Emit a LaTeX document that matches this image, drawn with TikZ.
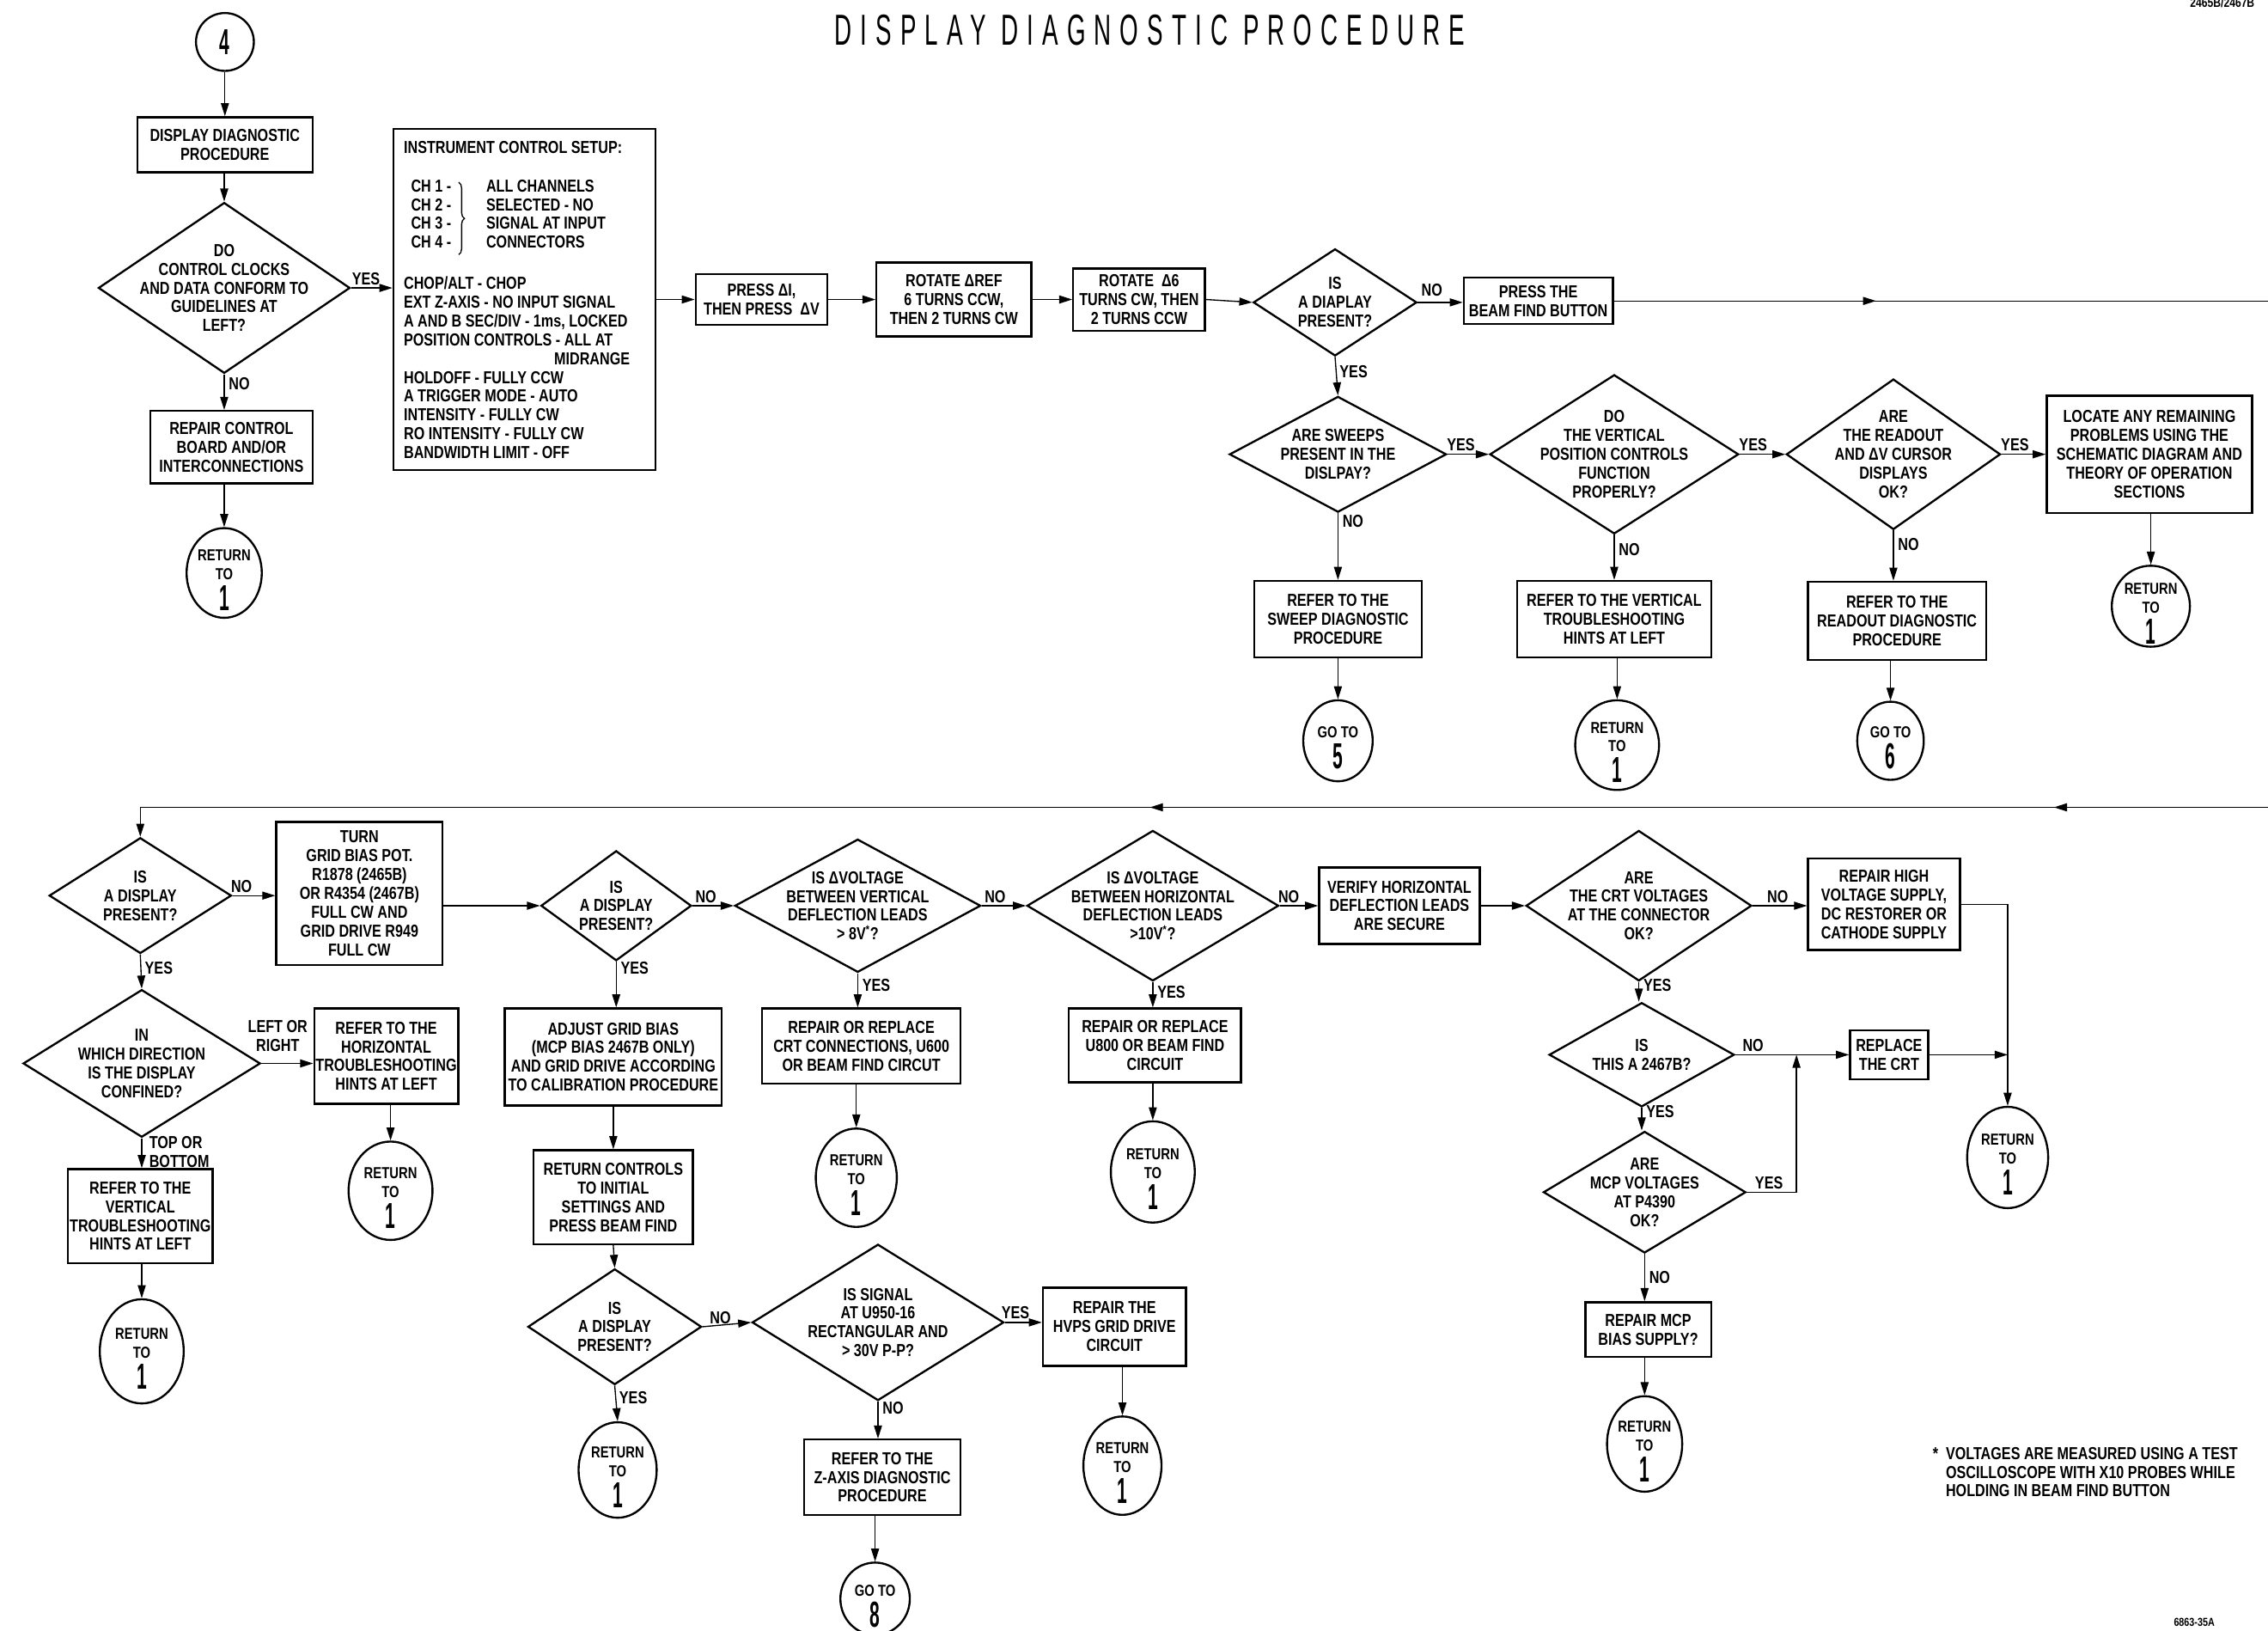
\documentclass[tikz,border=0pt]{standalone}
\usepackage{fontspec}
\setmainfont{Liberation Sans}[FakeStretch=0.8]
\newfontfamily\titlefnt{Liberation Sans}[FakeStretch=0.55,LetterSpace=20]
\newfontfamily\digfnt{Liberation Sans}[FakeStretch=0.5]
\usetikzlibrary{shapes.geometric,arrows.meta,decorations.pathreplacing}
\newcommand\bfnt{\bfseries\fontsize{12}{13}\selectfont}
\newcommand\tfnt{\bfseries\fontsize{11}{13}\selectfont}
\newcommand\bigdig{\digfnt\fontsize{25}{25}\selectfont}
\newcommand\bx[5]{\node[box,minimum width=#3,minimum height=#4] (#1) at (#2) {#5};}
\newcommand\dm[5]{\node[dia,minimum width=#3,minimum height=#4] (#1) at (#2) {};
  \node[dtext] (#1t) at (#1.center) {#5};}
\newcommand\rt[5]{\node[term,minimum width=#3,minimum height=#4] (#1) at (#2) {};
  \node[ttext,yshift=-5pt] (#1t) at (#1.center) {#5};}
\newcommand\retone{RETURN\\TO\\[3pt]{\bigdig 1}}
\begin{document}
\begin{tikzpicture}[x=1pt,y=-1pt,
  box/.style={draw,line width=1.4pt,inner sep=1pt,align=center,font=\bfnt},
  dia/.style={draw,line width=1.4pt,diamond,inner sep=0pt},
  dtext/.style={align=center,font=\bfnt,inner sep=0pt},
  ttext/.style={align=center,font=\tfnt,inner sep=0pt},
  term/.style={draw,line width=1.4pt,ellipse,inner sep=0pt},
  arr/.style={line width=0.8pt,-{Triangle[length=9pt,width=5.5pt]}},
  ln/.style={line width=0.8pt},
  lbl/.style={font=\bfnt,inner sep=0pt,align=left},
  hl/.style={lbl,anchor=south},
  vl/.style={lbl,anchor=west},
]
\path[use as bounding box] (0,0) rectangle (1568,1127);

% title and marks
\node[font=\titlefnt\fontsize{30}{30}\selectfont] (title) at (795,21) {DISPLAY DIAGNOSTIC PROCEDURE};
\node[font=\bfseries\fontsize{9}{9}\selectfont,anchor=base west,inner sep=0pt] (code) at (1514,5) {2465B/2467B};
\node[font=\bfseries\fontsize{8}{8}\selectfont] (fig) at (1517,1121) {6863-35A};

% ---------- top section ----------
\node[term,minimum width=40,minimum height=40] (c4) at (155.5,29) {};
\node[ttext] (c4t) at (c4.center) {\bigdig 4};
\bx{ddp}{155.5,100}{121}{38}{DISPLAY DIAGNOSTIC\\PROCEDURE}
\dm{dctl}{155,199}{174}{118}{DO\\CONTROL CLOCKS\\AND DATA CONFORM TO\\GUIDELINES AT\\LEFT?}
\bx{rcb}{160,309}{112}{50}{REPAIR CONTROL\\BOARD AND/OR\\INTERCONNECTIONS}
\rt{r1}{155,396}{52}{62}{\retone}

% setup box
\node[draw,line width=1.4pt,minimum width=181,minimum height=236,inner sep=0pt] (setup) at (362.5,207) {};
\node[lbl,anchor=west] (s0) at (279,102) {INSTRUMENT CONTROL SETUP:};
\node[lbl,anchor=north west] (s1) at (284,124) {CH 1 -\\CH 2 -\\CH 3 -\\CH 4 -};
\node[lbl,anchor=north west] (s2) at (336,124) {ALL CHANNELS\\SELECTED - NO\\SIGNAL AT INPUT\\CONNECTORS};
\draw[line width=0.8pt,decorate,decoration={brace,amplitude=4pt}] (s1.north east)++(5,2) -- ++(0,50);
\node[lbl,anchor=north west] (s3) at (279,191) {CHOP/ALT - CHOP\\EXT Z-AXIS - NO INPUT SIGNAL\\A AND B SEC/DIV - 1ms, LOCKED\\POSITION CONTROLS - ALL AT\\\hspace*{104pt}MIDRANGE\\HOLDOFF - FULLY CCW\\A TRIGGER MODE - AUTO\\INTENSITY - FULLY CW\\RO INTENSITY - FULLY CW\\BANDWIDTH LIMIT - OFF};

\bx{press}{526.5,207}{91}{35}{PRESS ΔI,\\THEN PRESS \ ΔV}
\bx{rot1}{659.5,207}{107}{51}{ROTATE ΔREF\\6 TURNS CCW,\\THEN 2 TURNS CW}
\bx{rot2}{787.5,207}{91}{43}{ROTATE \ Δ6\\TURNS CW, THEN\\2 TURNS CCW}
\dm{dis1}{923,209}{113}{74}{IS\\A DIAPLAY\\PRESENT?}
\bx{beam}{1063.5,208}{103}{32}{PRESS THE\\BEAM FIND BUTTON}
\coordinate (topmid) at (1297,208);
\coordinate (topR) at (1568,208);

\dm{dsweep}{925,314}{150}{80}{ARE SWEEPS\\PRESENT IN THE\\DISLPAY?}
\dm{dvpos}{1116,314}{172}{110}{DO\\THE VERTICAL\\POSITION CONTROLS\\FUNCTION\\PROPERLY?}
\dm{dread}{1309,314}{148}{104}{ARE\\THE READOUT\\AND ΔV CURSOR\\DISPLAYS\\OK?}
\bx{locate}{1486,314}{142}{81}{LOCATE ANY REMAINING\\PROBLEMS USING THE\\SCHEMATIC DIAGRAM AND\\THEORY OF OPERATION\\SECTIONS}
\rt{r2}{1487,419}{54}{56}{\retone}

\bx{sweepbox}{925,428}{116}{53}{REFER TO THE\\SWEEP DIAGNOSTIC\\PROCEDURE}
\bx{vertbox}{1116,428}{134}{53}{REFER TO THE VERTICAL\\TROUBLESHOOTING\\HINTS AT LEFT}
\bx{readbox}{1311.5,429}{123}{54}{REFER TO THE\\READOUT DIAGNOSTIC\\PROCEDURE}
\rt{g5}{925,512}{48}{56}{GO TO\\[3pt]{\bigdig 5}}
\rt{r3}{1118,515}{58}{62}{\retone}
\rt{g6}{1307,512}{46}{54}{GO TO\\[3pt]{\bigdig 6}}

% ---------- bottom section ----------
\coordinate (rowR) at (1568,558);
\coordinate (rowA) at (1420,558);
\coordinate (rowB) at (795,558);
\coordinate (rowL) at (97,558);

\dm{d1}{97,619}{126}{80}{IS\\A DISPLAY\\PRESENT?}
\bx{turn}{248.5,617.5}{115}{99}{TURN\\GRID BIAS POT.\\R1878 (2465B)\\OR R4354 (2467B)\\FULL CW AND\\GRID DRIVE R949\\FULL CW}
\dm{ddir}{98,735}{164}{102}{IN\\WHICH DIRECTION\\IS THE DISPLAY\\CONFINED?}
\bx{horizbox}{267,730}{98}{66}{REFER TO THE\\HORIZONTAL\\TROUBLESHOOTING\\HINTS AT LEFT}
\rt{r4}{270,823}{58}{68}{\retone}
\bx{vertbox2}{97,840.5}{100}{65}{REFER TO THE\\VERTICAL\\TROUBLESHOOTING\\HINTS AT LEFT}
\rt{r5}{98,934}{58}{72}{\retone}

\dm{d2}{426,626}{104}{76}{IS\\A DISPLAY\\PRESENT?}
\bx{adjust}{424,730.5}{150}{67}{ADJUST GRID BIAS\\(MCP BIAS 2467B ONLY)\\AND GRID DRIVE ACCORDING\\TO CALIBRATION PROCEDURE}
\bx{retctrl}{424,827.5}{110}{65}{RETURN CONTROLS\\TO INITIAL\\SETTINGS AND\\PRESS BEAM FIND}
\dm{d3}{425,917}{120}{80}{IS\\A DISPLAY\\PRESENT?}
\rt{r10}{427,1016}{54}{66}{\retone}
\dm{dsig}{607,914}{174}{108}{IS SIGNAL\\AT U950-16\\RECTANGULAR AND\\> 30V P-P?}
\bx{hvps}{770.5,917}{99}{54}{REPAIR THE\\HVPS GRID DRIVE\\CIRCUIT}
\rt{r11}{776,1013}{54}{68}{\retone}
\bx{zaxis}{610,1021}{108}{52}{REFER TO THE\\Z-AXIS DIAGNOSTIC\\PROCEDURE}
\rt{g8}{605,1105}{48}{50}{GO TO\\[3pt]{\bigdig 8}}

\dm{dv}{593,626}{170}{92}{IS ΔVOLTAGE\\BETWEEN VERTICAL\\DEFLECTION LEADS\\> 8V\textsuperscript{*}?}
\bx{rep600}{595.5,723}{137}{52}{REPAIR OR REPLACE\\CRT CONNECTIONS, U600\\OR BEAM FIND CIRCUT}
\rt{r6}{592,814}{56}{68}{\retone}
\dm{dh}{797,626}{174}{104}{IS ΔVOLTAGE\\BETWEEN HORIZONTAL\\DEFLECTION LEADS\\>10V\textsuperscript{*}?}
\bx{rep800}{798.5,722.5}{119}{51}{REPAIR OR REPLACE\\U800 OR BEAM FIND\\CIRCUIT}
\rt{r7}{797,810}{58}{70}{\retone}

\bx{verify}{967.5,626}{111}{53}{VERIFY HORIZONTAL\\DEFLECTION LEADS\\ARE SECURE}
\dm{dcrt}{1133,626}{156}{104}{ARE\\THE CRT VOLTAGES\\AT THE CONNECTOR\\OK?}
\bx{hv}{1302.5,625}{105}{63}{REPAIR HIGH\\VOLTAGE SUPPLY,\\DC RESTORER OR\\CATHODE SUPPLY}
\rt{r8}{1388,800}{56}{70}{\retone}
\dm{d67}{1135,729}{128}{72}{IS\\THIS A 2467B?}
\bx{crt}{1306,729}{54}{34}{REPLACE\\THE CRT}
\dm{dmcp}{1137,824}{140}{84}{ARE\\MCP VOLTAGES\\AT P4390\\OK?}
\bx{mcpbox}{1139.5,919}{87}{38}{REPAIR MCP\\BIAS SUPPLY?}
\rt{r9}{1137,998}{52}{66}{\retone}
\coordinate (hvcorner) at (1388,625);
\coordinate (mcpcorner) at (1242,824);
\coordinate (mcpjoin) at (1242,729);

\node[lbl,anchor=north west] (foot) at (1336,1000) {*\ \ VOLTAGES ARE MEASURED USING A TEST\\\phantom{*}\ \ OSCILLOSCOPE WITH X10 PROBES WHILE\\\phantom{*}\ \ HOLDING IN BEAM FIND BUTTON};

% ---------- connectors ----------
\draw[arr] (c4.south) -- (ddp.north);
\draw[arr] (dctl.north |- ddp.south) -- (dctl.north);
\draw[arr] (dctl.east) -- (dctl.east -| setup.west);
\draw[arr] (dctl.south) -- (dctl.south |- rcb.north);
\draw[arr] (r1.north |- rcb.south) -- (r1.north);
\draw[arr] (press.west -| setup.east) -- (press.west);
\draw[arr] (press.east) -- (rot1.west);
\draw[arr] (rot1.east) -- (rot2.west);
\draw[arr] (rot2.east) -- (dis1.west);
\draw[arr] (dis1.east) -- (dis1.east -| beam.west);
\draw[ln] (beam.east) -- (topR);
\draw[arr] (beam.east) -- (topmid);
\draw[arr] (dis1.south) -- (dsweep.north);
\draw[arr] (dsweep.east) -- (dvpos.west);
\draw[arr] (dvpos.east) -- (dread.west);
\draw[arr] (dread.east) -- (locate.west);
\draw[arr] (r2.north |- locate.south) -- (r2.north);
\draw[arr] (dsweep.south) -- (dsweep.south |- sweepbox.north);
\draw[arr] (sweepbox.south) -- (g5.north);
\draw[arr] (dvpos.south) -- (dvpos.south |- vertbox.north);
\draw[arr] (r3.north |- vertbox.south) -- (r3.north);
\draw[arr] (dread.south) -- (dread.south |- readbox.north);
\draw[arr] (g6.north |- readbox.south) -- (g6.north);

\draw[ln] (rowR) -- (rowL);
\draw[arr] (rowR) -- (rowA);
\draw[arr] (rowR) -- (rowB);
\draw[arr] (rowL) -- (d1.north);
\draw[arr] (d1.east) -- (d1.east -| turn.west);
\draw[arr] (d2.west -| turn.east) -- (d2.west);
\draw[arr] (d1.south) -- (ddir.north);
\draw[arr] (ddir.east) -- (ddir.east -| horizbox.west);
\draw[arr] (r4.north |- horizbox.south) -- (r4.north);
\draw[arr] (ddir.south) -- (ddir.south |- vertbox2.north);
\draw[arr] (r5.north |- vertbox2.south) -- (r5.north);
\draw[arr] (d2.south) -- (d2.south |- adjust.north);
\draw[arr] (adjust.south) -- (retctrl.north);
\draw[arr] (retctrl.south) -- (d3.north);
\draw[arr] (d3.south) -- (r10.north);
\draw[arr] (d3.east) -- (dsig.west);
\draw[arr] (dsig.east) -- (dsig.east -| hvps.west);
\draw[arr] (r11.north |- hvps.south) -- (r11.north);
\draw[arr] (dsig.south) -- (dsig.south |- zaxis.north);
\draw[arr] (g8.north |- zaxis.south) -- (g8.north);
\draw[arr] (d2.east) -- (dv.west);
\draw[arr] (dv.east) -- (dh.west);
\draw[arr] (dh.east) -- (dh.east -| verify.west);
\draw[arr] (verify.east) -- (verify.east -| dcrt.west);
\draw[arr] (dcrt.east) -- (dcrt.east -| hv.west);
\draw[arr] (dv.south) -- (dv.south |- rep600.north);
\draw[arr] (r6.north |- rep600.south) -- (r6.north);
\draw[arr] (dh.south) -- (dh.south |- rep800.north);
\draw[arr] (r7.north |- rep800.south) -- (r7.north);
\draw[arr] (hv.east) -- (hvcorner) -- (r8.north);
\draw[arr] (dcrt.south) -- (dcrt.south |- d67.north);
\draw[arr] (d67.east) -- (d67.east -| crt.west);
\draw[arr] (crt.east) -- (crt.east -| hvcorner);
\draw[arr] (d67.south) -- (d67.south |- dmcp.north);
\draw[arr] (dmcp.east) -- (mcpcorner) -- (mcpjoin);
\draw[arr] (dmcp.south) -- (dmcp.south |- mcpbox.north);
\draw[arr] (r9.north |- mcpbox.south) -- (r9.north);

% ---------- labels ----------
\node[hl] (la1) at (253,197) {YES};
\node[vl] (la2) at (158,265) {NO};
\node[hl] (la3) at (990,205) {NO};
\node[vl] (la4) at (926,257) {YES};
\node[hl] (la5) at (1010,312) {YES};
\node[hl] (la6) at (1212,312) {YES};
\node[hl] (la7) at (1393,312) {YES};
\node[vl] (la8) at (928,360) {NO};
\node[vl] (la9) at (1119,380) {NO};
\node[vl] (la10) at (1312,376) {NO};
\node[hl] (lb1) at (167,617) {NO};
\node[vl] (lb2) at (100,669) {YES};
\node[hl,align=center] (lb3) at (192,727) {LEFT OR\\RIGHT};
\node[vl] (lb4) at (103,796) {TOP OR\\BOTTOM};
\node[hl] (lb5) at (488,624) {NO};
\node[vl] (lb6) at (429,669) {YES};
\node[hl] (lb7) at (688,624) {NO};
\node[vl] (lb8) at (596,681) {YES};
\node[hl] (lb9) at (891,624) {NO};
\node[vl] (lb10) at (800,686) {YES};
\node[hl] (lb11) at (1229,624) {NO};
\node[vl] (lb12) at (1136,681) {YES};
\node[hl] (lb13) at (1212,727) {NO};
\node[vl] (lb14) at (1138,768) {YES};
\node[hl] (lb15) at (1223,822) {YES};
\node[vl] (lb16) at (1140,883) {NO};
\node[hl] (lb17) at (498,915) {NO};
\node[vl] (lb18) at (428,966) {YES};
\node[hl] (lb19) at (702,912) {YES};
\node[vl] (lb20) at (610,973) {NO};
\end{tikzpicture}
\end{document}
